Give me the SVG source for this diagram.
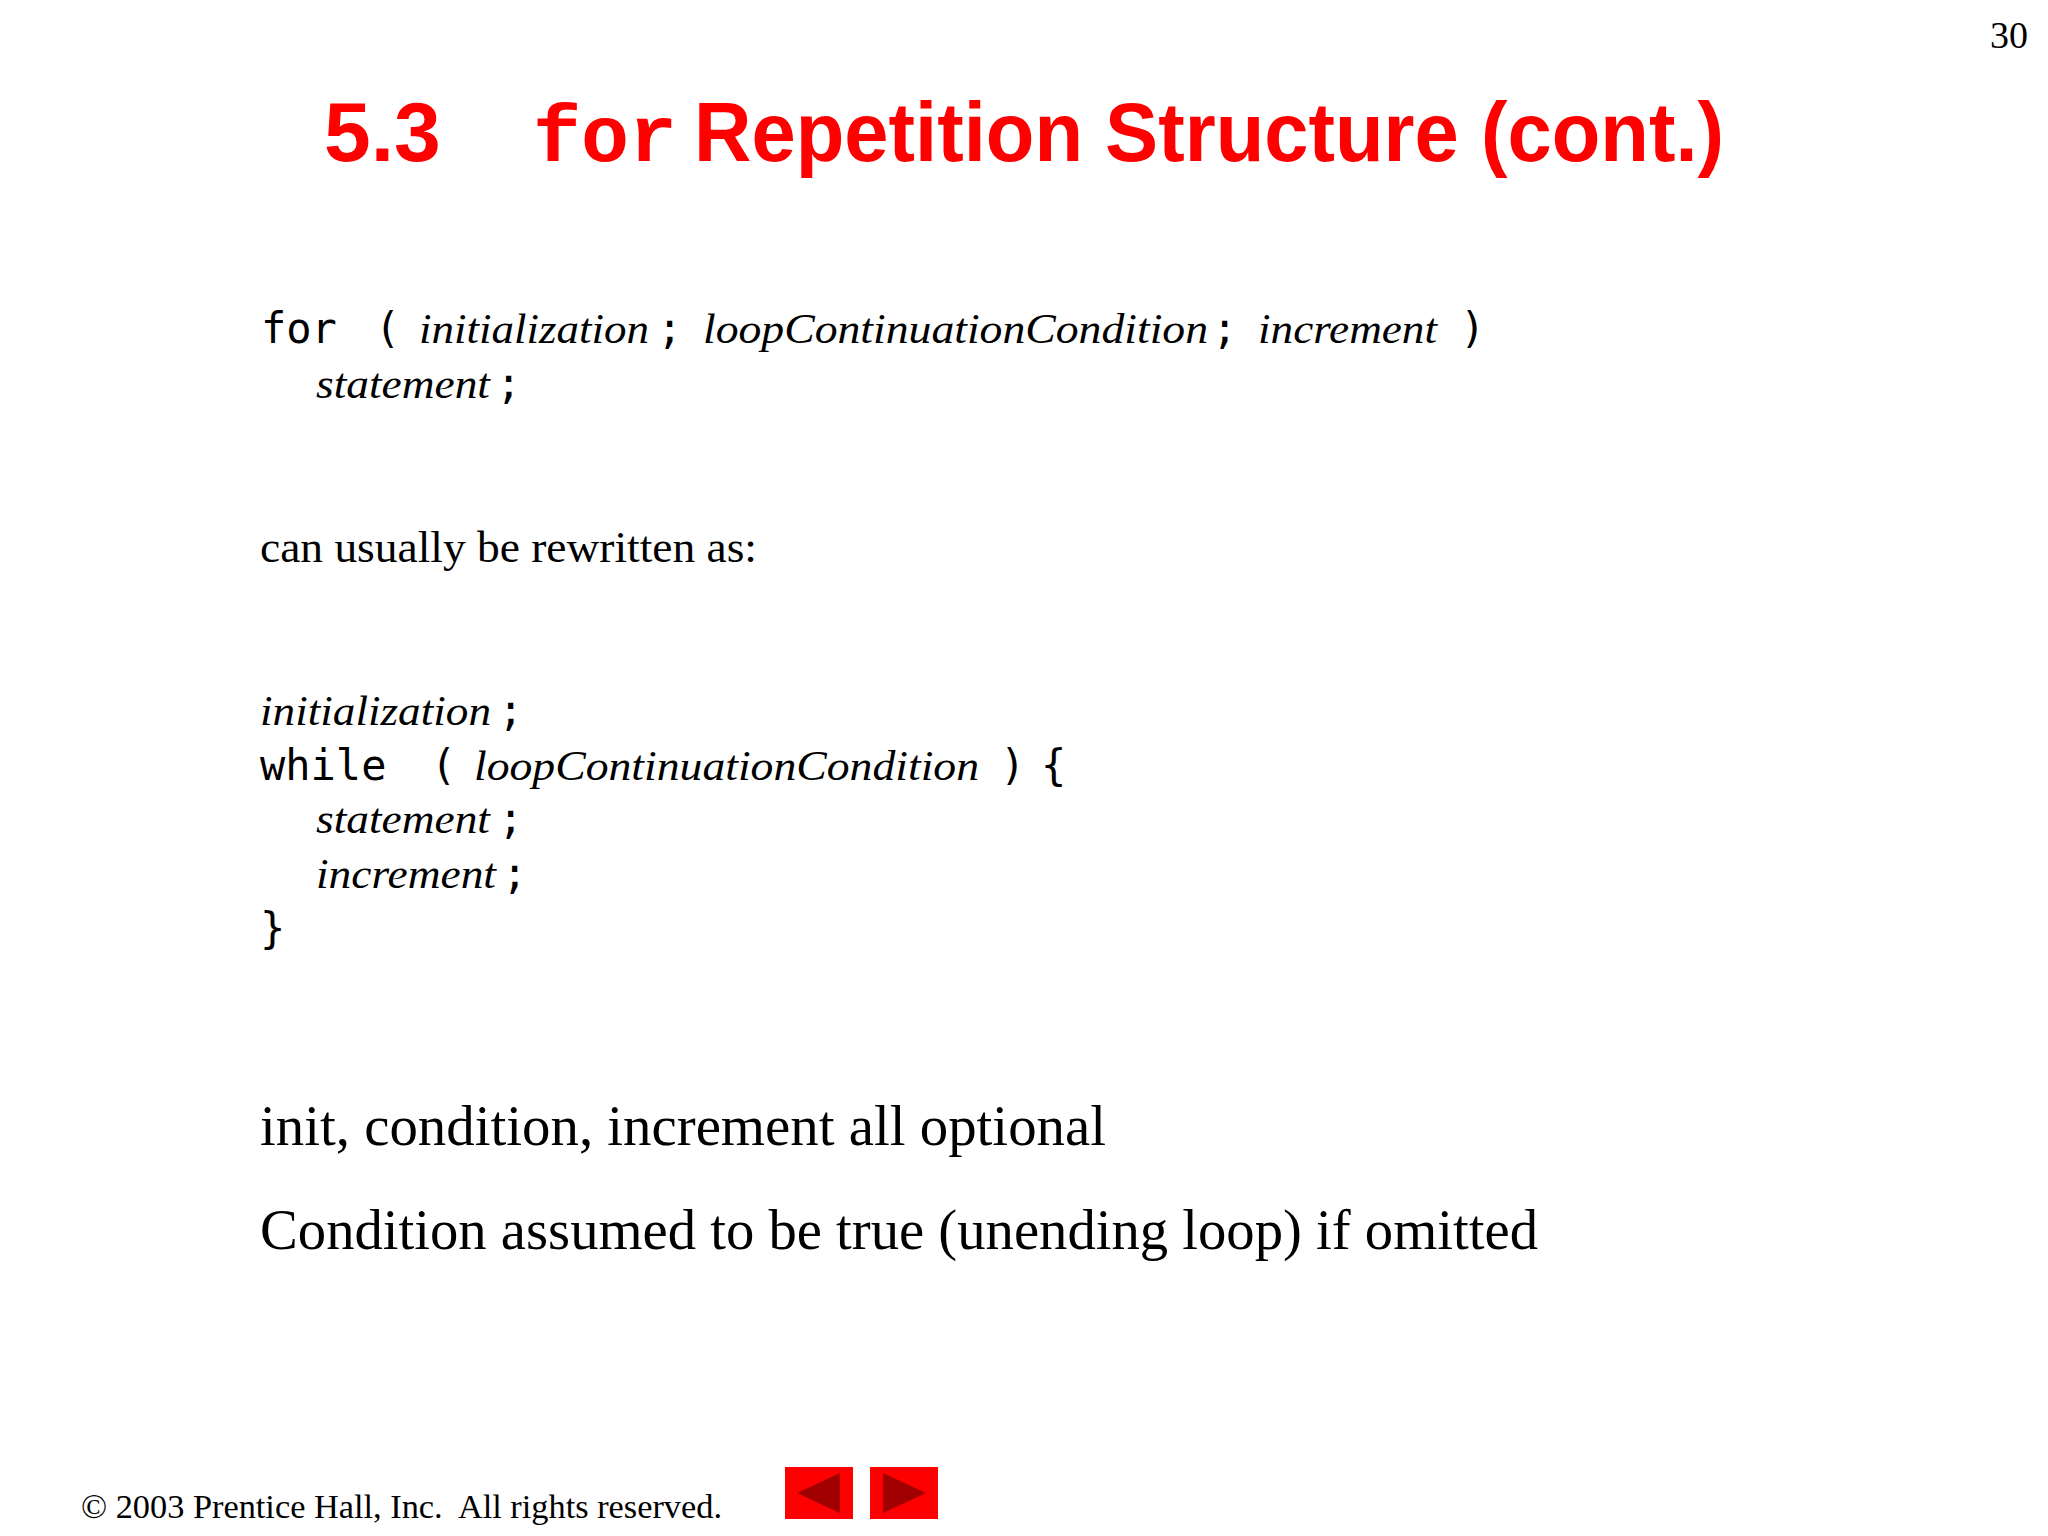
<svg xmlns="http://www.w3.org/2000/svg" width="2048" height="1536" viewBox="0 0 2048 1536">
<style>
.m{font-family:"DejaVu Sans Mono",monospace;font-size:42px;fill:#000}
.i{font-family:"Liberation Serif",serif;font-style:italic;font-size:43px;fill:#000}
.s{font-family:"Liberation Serif",serif;fill:#000}
.t{font-family:"Liberation Sans",sans-serif;font-weight:bold;font-size:84px;fill:#ff0000}
</style>
<rect width="2048" height="1536" fill="#fff"/>
<text class="s" x="2028" y="48" font-size="38" text-anchor="end">30</text>
<g id="title">
<text class="t" x="324" y="161">5.3</text>
<text x="533" y="161" font-family="'Liberation Mono',monospace" font-weight="bold" font-size="80" fill="#ff0000">for</text>
<text class="t" x="694" y="161" textLength="1030" lengthAdjust="spacingAndGlyphs">Repetition Structure (cont.)</text>
</g>
<g id="for-syntax">
<text class="m" x="261" y="343">for</text><text class="m" x="375" y="343">(</text>
<text class="i" x="419" y="343" textLength="230" lengthAdjust="spacingAndGlyphs">initialization</text><text class="m" x="657" y="343">;</text>
<text class="i" x="703" y="343" textLength="505" lengthAdjust="spacingAndGlyphs">loopContinuationCondition</text><text class="m" x="1212" y="343">;</text>
<text class="i" x="1258" y="343" textLength="179" lengthAdjust="spacingAndGlyphs">increment</text><text class="m" x="1460" y="343">)</text>
<text class="i" x="316" y="398" textLength="174" lengthAdjust="spacingAndGlyphs">statement</text><text class="m" x="496" y="398">;</text>
</g>
<text class="s" x="260" y="562" font-size="45" textLength="497" lengthAdjust="spacingAndGlyphs">can usually be rewritten as:</text>
<g id="while-syntax">
<text class="i" x="260" y="725" textLength="231" lengthAdjust="spacingAndGlyphs">initialization</text><text class="m" x="498" y="725">;</text>
<text class="m" x="260" y="780">while</text><text class="m" x="431" y="780">(</text>
<text class="i" x="474" y="780" textLength="505" lengthAdjust="spacingAndGlyphs">loopContinuationCondition</text>
<text class="m" x="1000" y="780">)</text><text class="m" x="1041" y="780">{</text>
<text class="i" x="316" y="833" textLength="174" lengthAdjust="spacingAndGlyphs">statement</text><text class="m" x="498" y="833">;</text>
<text class="i" x="316" y="888" textLength="180" lengthAdjust="spacingAndGlyphs">increment</text><text class="m" x="502" y="888">;</text>
<text class="m" x="260" y="943">}</text>
</g>
<text class="s" x="260" y="1145" font-size="57" textLength="846" lengthAdjust="spacingAndGlyphs">init, condition, increment all optional</text>
<text class="s" x="260" y="1249" font-size="57" textLength="1278" lengthAdjust="spacingAndGlyphs">Condition assumed to be true (unending loop) if omitted</text>
<text class="s" x="81" y="1518" font-size="34" xml:space="preserve" textLength="641" lengthAdjust="spacingAndGlyphs">© 2003 Prentice Hall, Inc.  All rights reserved.</text>
<g id="nav-prev"><rect x="785" y="1467" width="68" height="52" fill="#ff0000"/><polygon points="797,1493 840,1473 840,1513" fill="#a00000"/></g>
<g id="nav-next"><rect x="870" y="1467" width="68" height="52" fill="#ff0000"/><polygon points="926,1493 883,1473 883,1513" fill="#a00000"/></g>
</svg>
